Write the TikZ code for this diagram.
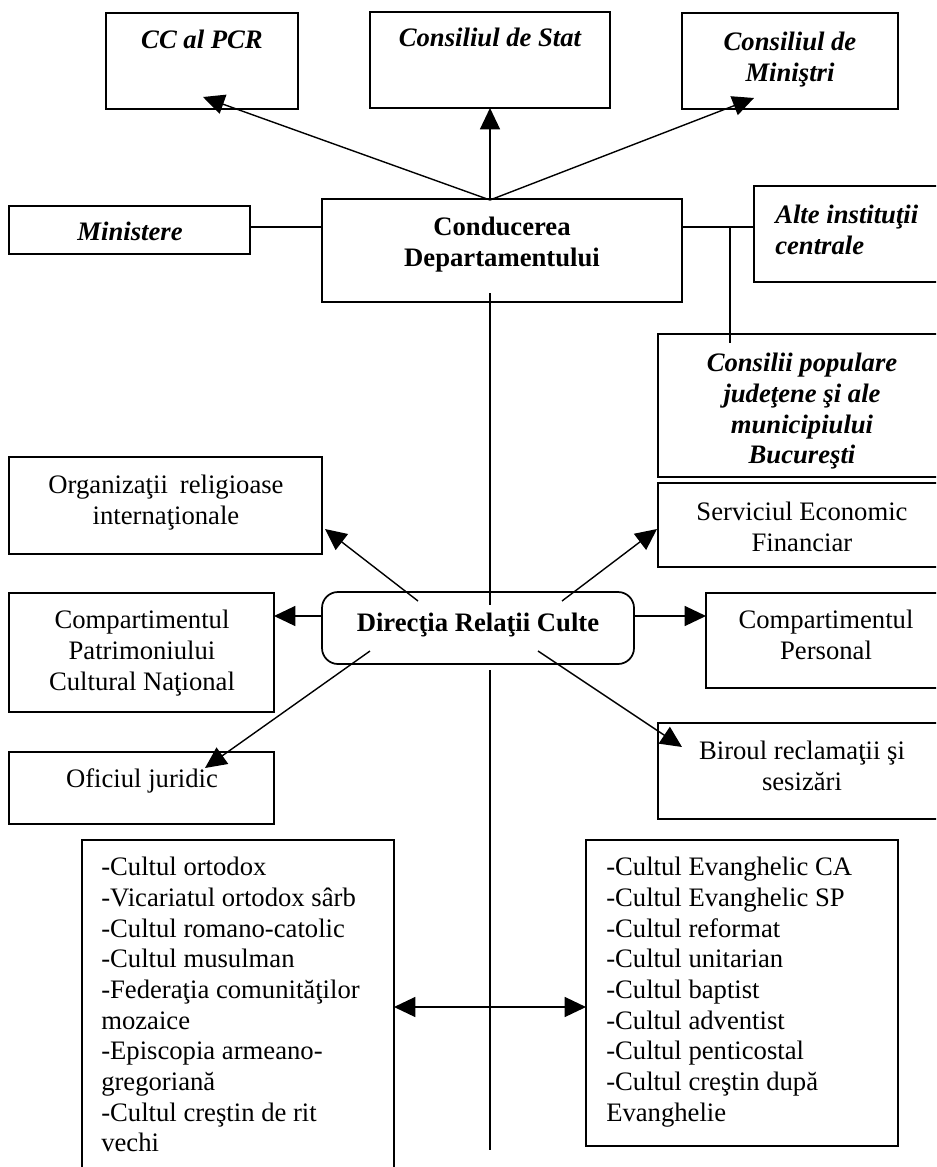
\documentclass[tikz,border=0pt]{standalone}
\usepackage{fontspec}
\setmainfont{Liberation Serif}
\usetikzlibrary{arrows.meta}
\newcommand{\mkbox}[6][]{\node[boxst,#1,minimum width={(#5-#3)*0.75pt},minimum height={(#6-#4)*0.75pt}] (#2) at ({(#3+#5)/2},{(#4+#6)/2}) {};}
\tikzset{
  boxst/.style={draw, line width=1.3pt, inner sep=0pt, outer sep=0pt},
  txt/.style={inner sep=0pt, align=center, anchor=north, font=\fontsize{20}{23}\selectfont},
  bi/.style={txt, font=\fontsize{20}{23}\selectfont\bfseries\itshape},
  bu/.style={txt, font=\fontsize{20}{23}\selectfont\bfseries},
  lst/.style={inner sep=0pt, align=left, anchor=north west, font=\fontsize{20}{23}\selectfont},
  conn/.style={line width=1.05pt},
  arr/.style={conn, -{Triangle[length=16pt,width=15pt]}},
  darr/.style={conn, {Triangle[length=16pt,width=15pt]}-{Triangle[length=16pt,width=15pt]}}
}
\begin{document}
\begin{tikzpicture}[x=0.75pt,y=-0.75pt]
\useasboundingbox (0,0) rectangle (936,1167);
\fill[white] (0,0) rectangle (936,1167);
\clip (0,0) rectangle (936,1167);
% boxes
\mkbox{cc}{106}{13}{298}{109}
\mkbox{stat}{370}{12}{610}{108}
\mkbox{min}{682}{13}{898}{109}
\mkbox{cond}{322}{199}{682}{302}
\mkbox{mini}{9}{206}{250}{254}
\mkbox{alte}{754}{186}{950}{282}
\mkbox{cons}{658}{334}{946}{477}
\mkbox{org}{9}{457}{322}{554}
\mkbox{serv}{658}{483}{946}{567}
\mkbox{patr}{9}{593}{274}{712}
\mkbox[rounded corners=12pt]{dir}{322}{592}{634}{664}
\mkbox{pers}{706}{593}{946}{688}
\mkbox{ofi}{9}{752}{274}{824}
\mkbox{bir}{658}{723}{946}{819}
\mkbox{ll}{82}{840}{394}{1200}
\mkbox{rl}{586}{840}{898}{1146}
% texts
\node[bi] (ccT) at (202,30) {CC al PCR};
\node[bi] (statT) at (490,28) {Consiliul de Stat};
\node[bi] (minT) at (790,32) {Consiliul de\\Miniştri};
\node[bu] (condT) at (502,217) {Conducerea\\Departamentului};
\node[bi] (miniT) at (130,222) {Ministere};
\node[bi, anchor=north west, align=left] (alteT) at (775,205) {Alte instituţii\\centrale};
\node[bi] (consT) at (802,353) {Consilii populare\\judeţene şi ale\\municipiului\\Bucureşti};
\node[txt] (orgT) at (166,475) {Organizaţii\hspace{0.45em}religioase\\internaţionale};
\node[txt] (servT) at (802,502) {Serviciul Economic\\Financiar};
\node[txt] (patrT) at (142,610) {Compartimentul\\Patrimoniului\\Cultural Naţional};
\node[bu] (dirT) at (478,613) {Direcţia Relaţii Culte};
\node[txt] (persT) at (826,610) {Compartimentul\\Personal};
\node[txt] (ofiT) at (142,768) {Oficiul juridic};
\node[txt] (birT) at (802,741) {Biroul reclamaţii şi\\sesizări};
\node[lst] (llT) at (101,857) {-Cultul ortodox\\-Vicariatul ortodox sârb\\-Cultul romano-catolic\\-Cultul musulman\\-Federaţia comunităţilor\\mozaice\\-Episcopia armeano-\\gregoriană\\-Cultul creştin de rit\\vechi};
\node[lst] (rlT) at (606,857) {-Cultul Evanghelic CA\\-Cultul Evanghelic SP\\-Cultul reformat\\-Cultul unitarian\\-Cultul baptist\\-Cultul adventist\\-Cultul penticostal\\-Cultul creştin după\\Evanghelie};
% coordinates
\coordinate (ctop) at (490,200);
\coordinate (ccTip) at (203,97);
\coordinate (minTip) at (754,98);
\coordinate (rowA) at (0,227);
\coordinate (rowB) at (0,616);
\coordinate (rowC) at (0,1007);
\coordinate (jn) at (730,227);
\coordinate (jnEnd) at (730,343);
\coordinate (cBot) at (490,293);
\coordinate (dTop) at (490,605);
\coordinate (dBot) at (490,670);
\coordinate (lineEnd) at (490,1150);
\coordinate (dUL) at (418,601);
\coordinate (orgTip) at (325,529);
\coordinate (dUR) at (562,601);
\coordinate (servTip) at (657,529);
\coordinate (dDL) at (370,651);
\coordinate (ofiTip) at (205,768);
\coordinate (dDR) at (538,651);
\coordinate (birTip) at (682,747);
% connectors
\draw[arr] (ctop) -- (ccTip);
\draw[arr] (ctop) -- (stat.south);
\draw[arr] (ctop) -- (minTip);
\draw[conn] (mini.east |- rowA) -- (cond.west |- rowA);
\draw[conn] (cond.east |- rowA) -- (alte.west |- rowA);
\draw[conn] (jn) -- (jnEnd);
\draw[conn] (cBot) -- (dTop);
\draw[conn] (dBot) -- (lineEnd);
\draw[arr] (dUL) -- (orgTip);
\draw[arr] (dUR) -- (servTip);
\draw[arr] (dDL) -- (ofiTip);
\draw[arr] (dDR) -- (birTip);
\draw[arr] (dir.west |- rowB) -- (patr.east |- rowB);
\draw[arr] (dir.east |- rowB) -- (pers.west |- rowB);
\draw[darr] (ll.east |- rowC) -- (rl.west |- rowC);
\end{tikzpicture}
\end{document}
